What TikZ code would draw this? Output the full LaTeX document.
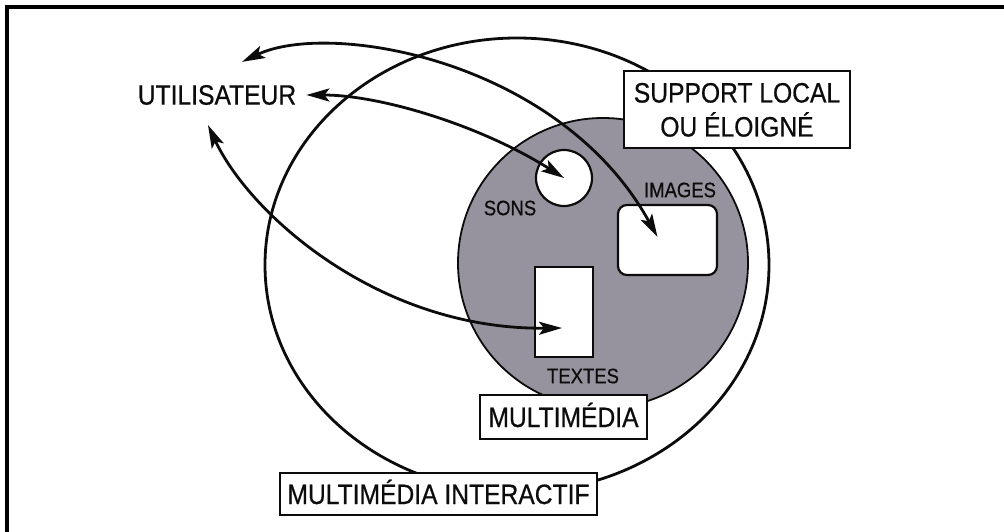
\documentclass[tikz,border=0pt]{standalone}
\usepackage{fontspec}
\newfontfamily\dfont[FakeStretch=0.88,FakeBold=0.6]{Liberation Sans}
\usetikzlibrary{arrows.meta}
\definecolor{discgray}{RGB}{150,147,158}
\definecolor{ink}{RGB}{12,12,12}
\tikzset{
  bigtxt/.style={font=\dfont\fontsize{28}{34}\selectfont, text=ink, inner sep=0pt},
  smalltxt/.style={font=\dfont\fontsize{21}{24}\selectfont, text=ink, inner sep=0pt},
  labbox/.style={draw=ink, line width=2.5pt, fill=white, font=\dfont\fontsize{28}{34}\selectfont,
     text=ink, inner sep=0pt, text height=20pt, text depth=0pt, align=center},
  arr/.style={draw=ink, line width=2.8pt,
     {Stealth[length=23pt,width=13pt,inset=5pt]}-{Stealth[length=23pt,width=13pt,inset=5pt]}},
  scopeline/.style={draw=ink, line width=2.8pt},
  inner/.style={draw=ink, line width=2.2pt, fill=white}
}
\begin{document}
\begin{tikzpicture}[x=1pt,y=-1pt]
\useasboundingbox (0,0) rectangle (1004,532);
\fill[white] (0,0) rectangle (1004,532);
% frame of the scan
\draw[black, line width=3.6pt] (7,532) -- (7,7) -- (1004,7);

% outer scope curve
\draw[scopeline] (517,265) ellipse[x radius=252, y radius=227];

% multimedia disc
\fill[discgray, draw=ink, line width=1.8pt] (603,263) circle[radius=145];

% inner media
\node[inner, circle, minimum size=56pt, inner sep=0pt] (sons) at (564,178) {};
\node[inner, rectangle, rounded corners=9pt, minimum width=99pt, minimum height=70pt] (img) at (667.5,240) {};
\node[inner, rectangle, minimum width=58pt, minimum height=90pt] (txt) at (564,312) {};

\node[smalltxt] (lsons) at (510,208) {SONS};
\node[smalltxt] (limg) at (680,190) {IMAGES};
\node[smalltxt] (ltxt) at (583,376) {TEXTES};

% boxes
\node[bigtxt] (u) at (217,95) {UTILISATEUR};
\node[labbox, minimum width=226pt, minimum height=77pt, text height=54pt] (sup) at (737,109.5)
  {SUPPORT LOCAL\\OU ÉLOIGNÉ};
\node[labbox, minimum width=167pt, minimum height=44pt] (mm) at (563.5,417) {MULTIMÉDIA};
\node[labbox, minimum width=317pt, minimum height=42pt] (mmi) at (438.5,494) {MULTIMÉDIA INTERACTIF};

% arrows
\draw[arr] ([xshift=25pt,yshift=23pt]u.north) .. controls (330,20) and (560,60) .. ([xshift=-10pt,yshift=3pt]img.center);
\draw[arr] ([xshift=10pt]u.east) .. controls (380,95) and (480,125) .. (sons.center);
\draw[arr] ([xshift=-9pt,yshift=-20pt]u.south) .. controls (250,215) and (380,330) .. ([xshift=-2pt,yshift=-16pt]txt.center);
\end{tikzpicture}
\end{document}
